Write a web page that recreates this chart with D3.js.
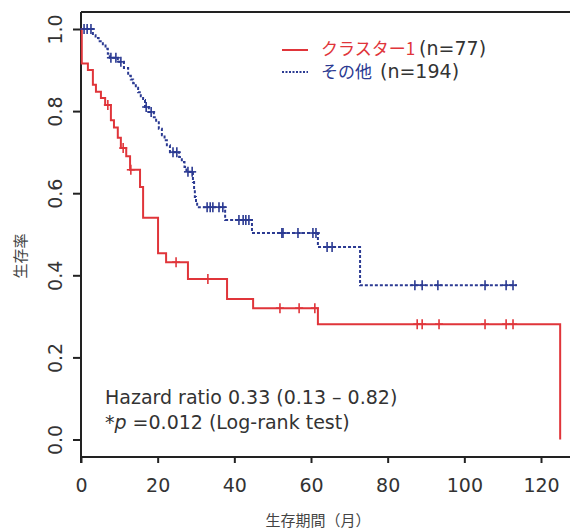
<!DOCTYPE html>
<html>
<head>
<meta charset="utf-8">
<script src="https://cdn.jsdelivr.net/npm/d3@7"></script>
<style>
  body { margin: 0; background: #fff; }
  svg { display: block; }
  .tick text { font-family: "DejaVu Sans", Verdana, sans-serif; font-size: 19px; fill: #333; }
</style>
</head>
<body>
<div id="chart"></div>
<script>
// cluster 1 (red): event times and survival after each drop
var redTimes = [0.2, 1.8, 3.1, 3.9, 5.2, 6.3, 7.8, 8.6, 9.6, 10.4, 11.8, 12.8, 15.4, 16.2, 20.1, 22.2, 27.9, 38.1, 44.9, 61.8, 125];
var redSurv  = [0.916, 0.90, 0.864, 0.847, 0.832, 0.815, 0.778, 0.76, 0.735, 0.71, 0.69, 0.657, 0.615, 0.54, 0.454, 0.432, 0.391, 0.342, 0.32, 0.281, 0];
var redCensor = [7.0, 11.0, 13.0, 24.8, 33.1, 51.9, 56.9, 61.0, 87.7, 89.0, 93.4, 105.4, 110.9, 112.7];
var redEnd = 125;

// others (blue)
var blueTimes = [3.1, 3.8, 4.6, 5.7, 6.4, 7.0, 7.5, 9.6, 11.2, 12.3, 13.0, 13.6, 14.3, 14.9, 15.6, 16.2, 16.7, 17.7, 19.0, 19.6, 20.3, 21.1, 21.8, 22.4, 23.2, 25.6, 26.3, 27.0, 27.5, 29.2, 29.5, 29.7, 30.0, 30.3, 37.6, 44.6, 61.8, 72.8];
var blueSurv  = [0.985, 0.978, 0.97, 0.963, 0.952, 0.94, 0.93, 0.92, 0.905, 0.886, 0.877, 0.868, 0.857, 0.846, 0.836, 0.827, 0.81, 0.798, 0.785, 0.773, 0.757, 0.741, 0.729, 0.717, 0.70, 0.688, 0.676, 0.664, 0.652, 0.627, 0.609, 0.591, 0.578, 0.566, 0.535, 0.503, 0.469, 0.376];
var blueCensor = [0.8, 1.6, 2.6, 7.8, 9.1, 10.4, 17.0, 18.3, 24.0, 25.0, 27.9, 29.0, 32.9, 33.7, 34.4, 36.0, 37.0, 41.2, 42.3, 43.0, 43.8, 52.4, 52.7, 56.6, 60.5, 61.3, 64.2, 65.5, 87.1, 89.0, 93.1, 105.4, 110.9, 112.7];
var blueEnd = 113.7;

var xTicks = [0, 20, 40, 60, 80, 100, 120];
var yTicks = [0, 0.2, 0.4, 0.6, 0.8, 1.0];

var width = 570, height = 529;
var red = "#e0353a", blue = "#2b3a92";

var x = d3.scaleLinear().domain([0, 120]).range([81, 541]);
var y = d3.scaleLinear().domain([0, 1]).range([439.5, 29]);

var svg = d3.select("#chart").append("svg")
  .attr("width", width)
  .attr("height", height);

// frame lines
var frame = svg.append("g").attr("stroke", "#222").attr("stroke-width", 2);
frame.append("line").attr("x1", 81).attr("x2", 570).attr("y1", 12).attr("y2", 12);
frame.append("line").attr("x1", 81).attr("x2", 570).attr("y1", 457).attr("y2", 457);
frame.append("line").attr("x1", 81).attr("x2", 81).attr("y1", 12).attr("y2", 463);

// axes
var xAxis = svg.append("g")
  .attr("transform", "translate(0,457)")
  .call(d3.axisBottom(x).tickValues(xTicks).tickSize(6).tickPadding(16));
xAxis.select(".domain").remove();
xAxis.selectAll(".tick line").attr("stroke", "#222").attr("stroke-width", 2);

var yAxis = svg.append("g")
  .attr("transform", "translate(81,0)")
  .call(d3.axisLeft(y).tickValues(yTicks).tickSize(8).tickFormat(d3.format(".1f")));
yAxis.select(".domain").remove();
yAxis.selectAll(".tick line").attr("stroke", "#222").attr("stroke-width", 2);
yAxis.selectAll(".tick text")
  .attr("transform", "rotate(-90)")
  .attr("x", 0).attr("y", -19).attr("dy", 0)
  .attr("text-anchor", "middle");

function stepData(times, surv, end) {
  var pts = [[0, 1]];
  times.forEach(function(t, i) { pts.push([t, surv[i]]); });
  if (end > times[times.length - 1]) pts.push([end, surv[surv.length - 1]]);
  return pts;
}
function survAt(times, surv, t) {
  var s = 1;
  times.forEach(function(tt, i) { if (tt <= t) s = surv[i]; });
  return s;
}

var line = d3.line()
  .x(function(d) { return x(d[0]); })
  .y(function(d) { return y(d[1]); })
  .curve(d3.curveStepAfter);

svg.append("path")
  .datum(stepData(blueTimes, blueSurv, blueEnd))
  .attr("fill", "none").attr("stroke", blue).attr("stroke-width", 2)
  .attr("stroke-dasharray", "3,2")
  .attr("d", line);

svg.append("path")
  .datum(stepData(redTimes, redSurv, redEnd))
  .attr("fill", "none").attr("stroke", red).attr("stroke-width", 2)
  .attr("d", line);

function marks(censor, times, surv, color) {
  var g = svg.append("g").attr("stroke", color).attr("stroke-width", 1.6);
  censor.forEach(function(t) {
    var cx = x(t), cy = y(survAt(times, surv, t));
    g.append("line").attr("x1", cx).attr("x2", cx).attr("y1", cy - 5).attr("y2", cy + 5);
    g.append("line").attr("x1", cx - 4).attr("x2", cx + 4).attr("y1", cy).attr("y2", cy);
  });
}
marks(blueCensor, blueTimes, blueSurv, blue);
marks(redCensor, redTimes, redSurv, red);

// legend
var jp = '"Noto Sans CJK JP", sans-serif';
var lat = '"DejaVu Sans", Verdana, sans-serif';
svg.append("line").attr("x1", 282).attr("x2", 308).attr("y1", 50).attr("y2", 50)
  .attr("stroke", red).attr("stroke-width", 2);
svg.append("line").attr("x1", 282).attr("x2", 308).attr("y1", 72).attr("y2", 72)
  .attr("stroke", blue).attr("stroke-width", 2).attr("stroke-dasharray", "2,1.5");

var l1 = svg.append("text").attr("x", 321).attr("y", 55);
l1.append("tspan").attr("font-family", jp).attr("font-size", 17).attr("fill", red).text("クラスター1");
l1.append("tspan").attr("font-family", lat).attr("font-size", 19).attr("fill", "#333").attr("dx", 4).text("(n=77)");
var l2 = svg.append("text").attr("x", 321).attr("y", 78);
l2.append("tspan").attr("font-family", jp).attr("font-size", 17).attr("fill", blue).text("その他");
l2.append("tspan").attr("font-family", lat).attr("font-size", 19).attr("fill", "#333").attr("dx", 8).text("(n=194)");

// annotation
svg.append("text").attr("x", 105).attr("y", 404)
  .attr("font-family", lat).attr("font-size", 19).attr("fill", "#333")
  .text("Hazard ratio 0.33 (0.13 \u2013 0.82)");
var a2 = svg.append("text").attr("x", 105).attr("y", 429)
  .attr("font-family", lat).attr("font-size", 19).attr("fill", "#333");
a2.append("tspan").text("*");
a2.append("tspan").attr("font-style", "italic").text("p");
a2.append("tspan").text(" =0.012 (Log-rank test)");

// axis titles
svg.append("text").attr("x", 318).attr("y", 526)
  .attr("text-anchor", "middle").attr("font-family", jp).attr("font-size", 15).attr("fill", "#444")
  .text("生存期間（月）");
svg.append("text").attr("transform", "translate(26,256) rotate(-90)")
  .attr("text-anchor", "middle").attr("font-family", jp).attr("font-size", 15).attr("fill", "#444")
  .text("生存率");
</script>
</body>
</html>
